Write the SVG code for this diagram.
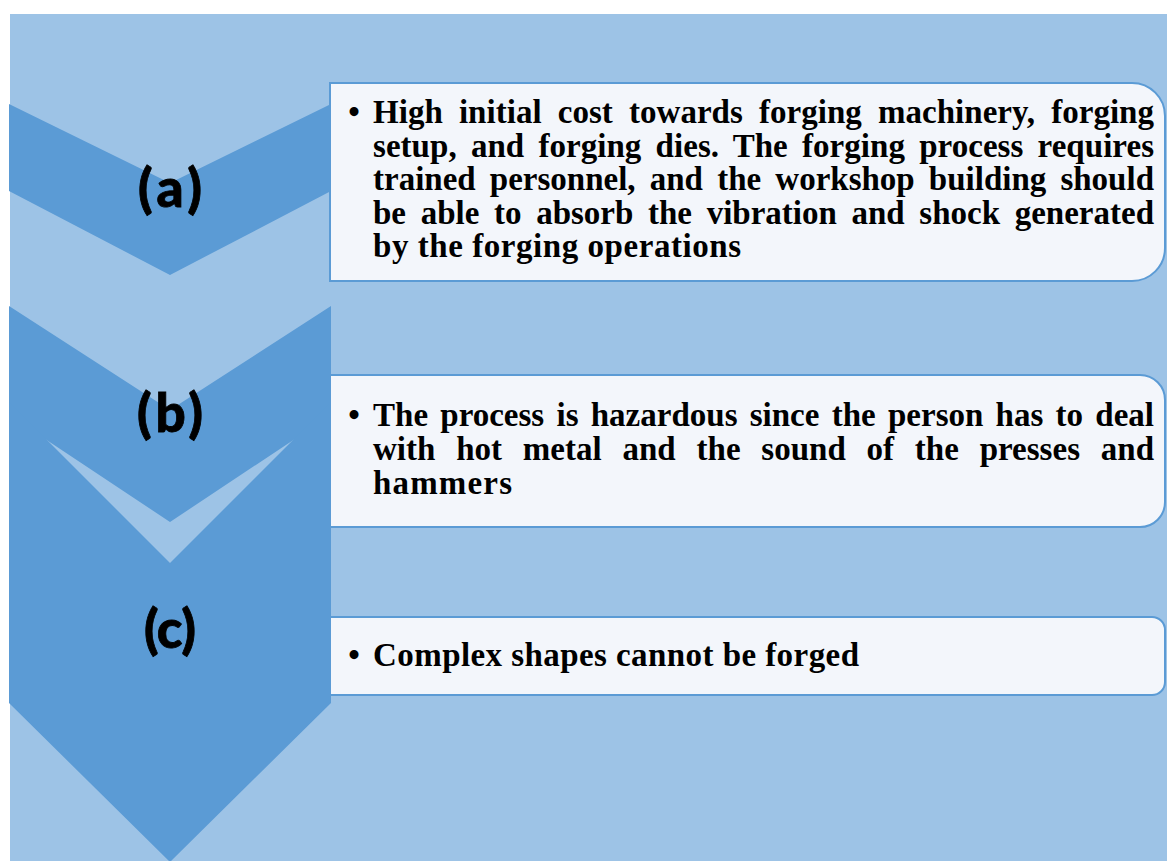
<svg xmlns="http://www.w3.org/2000/svg" width="1167" height="861" viewBox="0 0 1167 861">
<style>
.chev{fill:#5B9BD5;}
.box{fill:#F3F6FB;stroke:#5B9BD5;stroke-width:2;}
.lbl{font-family:Lato,"Liberation Sans",sans-serif;font-weight:900;font-size:53px;fill:#000;stroke:#000;stroke-width:0.8;text-anchor:middle;}
.txt{font-family:"Liberation Serif","Times New Roman",serif;font-weight:700;font-size:33px;fill:#000;}
.bul{font-family:"Liberation Serif","Times New Roman",serif;font-weight:700;font-size:33px;fill:#000;text-anchor:middle;}
</style>
<rect x="0" y="0" width="1167" height="861" fill="#FFFFFF"/>
<rect x="10" y="14" width="1157" height="847" fill="#9DC3E6"/>
<g id="node-a-chevron">
<polygon class="chev" points="9,104 170,183 331,104 331,191 170,275 9,191"/>
</g>
<g id="node-b-chevron">
<polygon class="chev" points="9,306 170,410 331,306 331,415 170,522 9,415"/>
</g>
<g id="node-c-chevron">
<polygon class="chev" points="9,402 170,563 331,402 331,703 170,862 9,703"/>
</g>
<g id="connectors"></g>
<g id="node-a-label">
<text class="lbl" x="170" y="207" textLength="64" lengthAdjust="spacing">(a)</text>
</g>
<g id="node-b-label">
<text class="lbl" x="170" y="432" textLength="66" lengthAdjust="spacing">(b)</text>
</g>
<g id="node-c-label">
<text class="lbl" x="170" y="648" textLength="52" lengthAdjust="spacing">(c)</text>
</g>
<g id="node-a-box">
<path class="box" d="M330,83 H1132 A33,33 0 0 1 1165,116 V248 A33,33 0 0 1 1132,281 H330 Z"/>
<text class="bul" x="354" y="123">•</text>
<text class="txt" x="373" y="123" word-spacing="7.8" textLength="781" lengthAdjust="spacing">High initial cost towards forging machinery, forging</text>
<text class="txt" x="373" y="156.5" word-spacing="5.9" textLength="781" lengthAdjust="spacing">setup, and forging dies. The forging process requires</text>
<text class="txt" x="373" y="190" word-spacing="5.9" textLength="781" lengthAdjust="spacing">trained personnel, and the workshop building should</text>
<text class="txt" x="373" y="223.5" word-spacing="6.4" textLength="781" lengthAdjust="spacing">be able to absorb the vibration and shock generated</text>
<text class="txt" x="373" y="257" textLength="368" lengthAdjust="spacing">by the forging operations</text>
</g>
<g id="node-b-box">
<path class="box" d="M330,375 H1140 A25,25 0 0 1 1165,400 V502 A25,25 0 0 1 1140,527 H330 Z"/>
<text class="bul" x="354" y="426">•</text>
<text class="txt" x="373" y="426" word-spacing="4" textLength="781" lengthAdjust="spacing">The process is hazardous since the person has to deal</text>
<text class="txt" x="373" y="460" word-spacing="12.5" textLength="781" lengthAdjust="spacing">with hot metal and the sound of the presses and</text>
<text class="txt" x="373" y="494" textLength="139" lengthAdjust="spacing">hammers</text>
</g>
<g id="node-c-box">
<path class="box" d="M330,617 H1152 A13,13 0 0 1 1165,630 V682 A13,13 0 0 1 1152,695 H330 Z"/>
<text class="bul" x="354" y="666">•</text>
<text class="txt" x="373" y="666" textLength="486" lengthAdjust="spacing">Complex shapes cannot be forged</text>
</g>
</svg>
